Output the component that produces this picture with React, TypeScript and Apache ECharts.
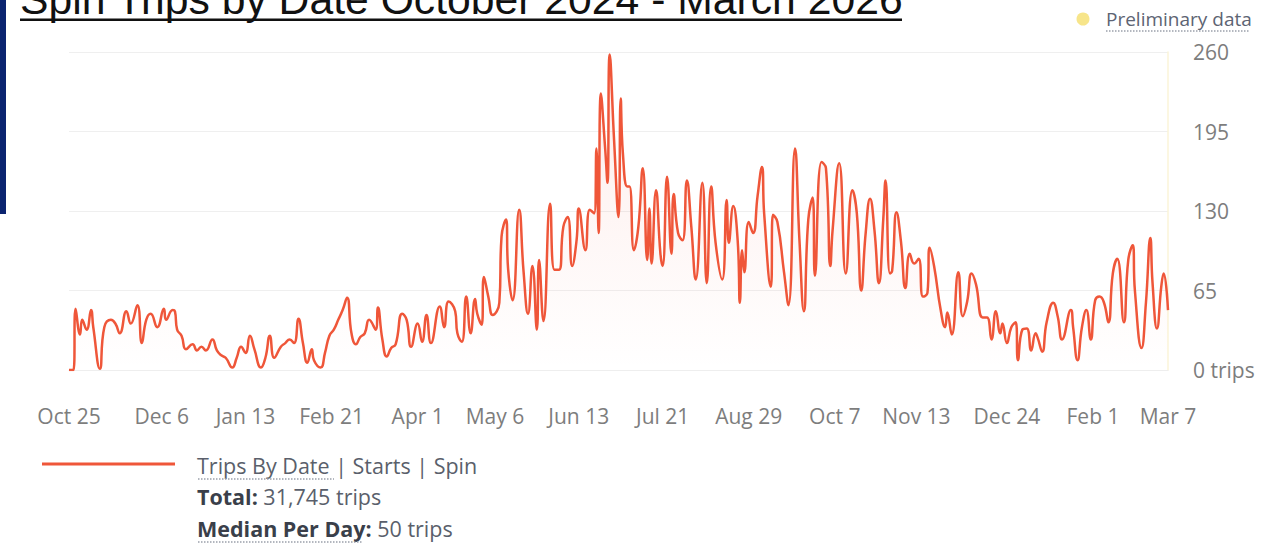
import React, { useEffect, useRef } from "react";
import * as echarts from "echarts";

// ---- data ----
const startDateUTC = Date.UTC(2024, 9, 25);
const dayCount = 499;
const tickDates = [
  "2024-10-25", "2024-12-06", "2025-01-13", "2025-02-21", "2025-04-01", "2025-05-06", "2025-06-13",
  "2025-07-21", "2025-08-29", "2025-10-07", "2025-11-13", "2025-12-24", "2026-02-01", "2026-03-07",
];
const yTicks = [0, 65, 130, 195, 260];
const sampleDays = [
  0, 2, 3, 5, 6, 8, 10, 11, 14, 16, 19, 21, 23, 26, 28, 31, 33, 35, 37, 40, 43, 44, 47, 48, 49, 51, 53, 56, 58, 60,
  62, 65, 67, 69, 71, 74, 76, 78, 80, 82, 84, 87, 89, 91, 93, 96, 98, 100, 102, 104, 106, 108, 110, 111, 114, 116, 118,
  120, 122, 124, 126, 128, 130, 132, 134, 136, 139, 140, 142, 144, 146, 148, 151, 153, 155, 158, 160, 162, 164, 168,
  170, 172, 175, 176, 178, 180, 182, 184, 185, 187, 188, 190, 192, 195, 196, 198, 199, 201, 204, 206, 208, 210, 212,
  213, 215, 218, 220, 222, 224, 226, 228, 230, 231, 234, 236, 238, 239, 240, 241, 243, 244, 245, 247, 249, 250, 251,
  253, 254, 256, 258, 260, 262, 263, 264, 266, 268, 269, 271, 273, 274, 276, 278, 280, 282, 284, 287, 289, 291, 293,
  296, 298, 299, 301, 303, 304, 305, 306, 308, 310, 312, 314, 315, 318, 319, 321, 324, 326, 329, 331, 333, 335, 337,
  338, 341, 343, 345, 346, 349, 352, 355, 357, 359, 361, 363, 365, 367, 369, 370, 372, 373, 375, 377, 379, 381, 383,
  385, 387, 389, 390, 392, 395, 397, 398, 400, 403, 405, 407, 409, 411, 414, 416, 418, 420, 422, 423, 425, 427, 429,
  430, 432, 434, 436, 438, 439, 441, 443, 446, 448, 450, 454, 455, 457, 459, 461, 463, 465, 467, 469, 471, 473, 475,
  478, 480, 482, 483, 486, 488, 490, 491, 493, 495, 496, 498,
];
const sampleTrips = [
  0, 0, 50, 29, 41, 33, 49, 35, 1, 35, 41, 38, 30, 48, 38, 53, 22, 41, 46, 35, 50, 41, 49, 48, 33, 28, 17, 21, 16, 19,
  16, 25, 16, 12, 10, 2, 10, 19, 14, 28, 17, 2, 10, 28, 10, 19, 22, 25, 22, 42, 22, 6, 17, 8, 2, 14, 28,
  33, 41, 49, 59, 30, 21, 27, 30, 41, 33, 51, 25, 11, 18, 21, 46, 41, 19, 38, 23, 45, 22, 52,
  35, 56, 48, 30, 23, 60, 30, 58, 46, 37, 76, 60, 45, 55, 109, 123, 82, 57, 131, 80, 46, 85, 33,
  90, 40, 136, 82, 82, 117, 125, 85, 106, 132, 98, 131, 128, 181, 112, 226, 180, 153, 258, 188, 125, 222, 177,
  150, 150, 98, 117, 165, 90, 132, 87, 147, 95, 85, 158, 95, 144, 112, 106, 155, 117, 74, 153, 71, 150, 104,
  74, 139, 104, 134, 106, 55, 98, 80, 121, 112, 142, 166, 128, 68, 127, 121, 80, 53, 181, 106, 48, 123, 141,
  77, 170, 165, 85, 114, 169, 79, 147, 128, 65, 112, 140, 114, 71, 124, 155, 79, 81, 129, 105, 67, 95, 87,
  91, 60, 63, 100, 85, 49, 35, 47, 29, 80, 44, 56, 79, 70, 43, 43, 25, 48, 30, 38, 22, 35, 39,
  8, 33, 34, 16, 30, 26, 15, 39, 55, 44, 25, 49, 35, 8, 35, 49, 25, 57, 60, 55, 39, 79, 91,
  39, 90, 102, 65, 18, 55, 108, 71, 34, 69, 79, 49,
];
const seriesName = "Trips By Date | Starts | Spin";
const totalTrips = "31,745";
const medianPerDay = 50;
const titleText = "Spin Trips by Date October 2024 - March 2026";
const prelimText = "Preliminary data";

const MONTHS = ["Jan", "Feb", "Mar", "Apr", "May", "Jun", "Jul", "Aug", "Sep", "Oct", "Nov", "Dec"];
function pad(n: number) {
  return n < 10 ? "0" + n : "" + n;
}
function buildCategories(): string[] {
  const out: string[] = [];
  for (let i = 0; i < dayCount; i++) {
    const d = new Date(startDateUTC + i * 86400000);
    out.push(d.getUTCFullYear() + "-" + pad(d.getUTCMonth() + 1) + "-" + pad(d.getUTCDate()));
  }
  return out;
}
function fmtDate(iso: string) {
  const [, m, d] = iso.split("-");
  return MONTHS[parseInt(m, 10) - 1] + " " + parseInt(d, 10);
}

const FONT = "'Open Sans', 'Noto Sans', sans-serif";
const LINE_COLOR = "#ef5639";
const TXT = "#5a5f6b";
const BOLD_TXT = "#3a3f4a";
const LEG_FS = 21.5;
const AXIS_FS = 21;

export default function App() {
  const ref = useRef<HTMLDivElement>(null);
  useEffect(() => {
    if (!ref.current) return;
    const chart = echarts.init(ref.current, undefined, { renderer: "svg" });
    const categories = buildCategories();
    const data = sampleDays.map((d, i) => [d, sampleTrips[i]]);
    const boldRich = {
      b: { fontWeight: "bold", fontSize: LEG_FS, fontFamily: FONT, fill: BOLD_TXT },
      r: { fontWeight: "normal", fontSize: LEG_FS, fontFamily: FONT, fill: TXT },
    };
    chart.setOption({
      animation: false,
      backgroundColor: "#ffffff",
      grid: { left: 69, right: 115, top: 52, bottom: 174, containLabel: false },
      xAxis: {
        type: "category",
        boundaryGap: false,
        data: categories,
        offset: 22,
        axisLine: { show: true, lineStyle: { color: "#eeeeee", width: 1 } },
        axisTick: { show: false },
        splitLine: { show: false },
        axisLabel: {
          interval: (_idx: number, value: string) => tickDates.indexOf(value) >= 0,
          formatter: (value: string) => fmtDate(value),
          color: "#7d7d7d",
          fontFamily: FONT,
          fontSize: AXIS_FS,
          margin: 13,
        },
      },
      yAxis: {
        type: "value",
        position: "right",
        min: yTicks[0],
        max: yTicks[yTicks.length - 1],
        interval: 65,
        axisLine: { show: true, lineStyle: { color: "#fbf4d8", width: 1.5 } },
        axisTick: { show: false },
        splitLine: { show: true, lineStyle: { color: "#efefef", width: 1 } },
        axisLabel: {
          margin: 25,
          color: "#7d7d7d",
          fontFamily: FONT,
          fontSize: AXIS_FS,
          formatter: (v: number) => (v === 0 ? "0 trips" : String(v)),
        },
      },
      series: [
        {
          type: "line",
          name: seriesName,
          data,
          smooth: 0.5,
          showSymbol: false,
          lineStyle: { color: LINE_COLOR, width: 2.5 },
          itemStyle: { color: LINE_COLOR },
          areaStyle: {
            color: new echarts.graphic.LinearGradient(0, 0, 0, 1, [
              { offset: 0, color: "rgba(240,90,70,0.16)" },
              { offset: 1, color: "rgba(240,90,70,0)" },
            ]),
          },
        },
      ],
      graphic: [
        { type: "rect", left: 0, top: 0, shape: { width: 6, height: 214 }, style: { fill: "#0b2470" } },
        {
          type: "text",
          x: 20,
          y: -1,
          style: {
            text: titleText,
            font: "42.7px 'Liberation Sans', Arial, sans-serif",
            fill: "#111111",
            verticalAlign: "middle",
          },
        },
        { type: "rect", shape: { x: 20, y: 18.5, width: 882, height: 2.5 }, style: { fill: "#111111" } },
        { type: "circle", shape: { cx: 1083, cy: 19, r: 6.5 }, style: { fill: "#f7e58a" } },
        {
          type: "text",
          x: 1106,
          y: 19,
          style: { text: prelimText, fontSize: 19, fontFamily: FONT, fill: "#5d6473", verticalAlign: "middle" },
        },
        {
          type: "line",
          shape: { x1: 1106, y1: 31, x2: 1250, y2: 31 },
          style: { stroke: "#9aa0ab", lineWidth: 1.5, lineDash: [1.5, 1.5] },
        },
        {
          type: "line",
          shape: { x1: 42, y1: 464, x2: 175, y2: 464 },
          style: { stroke: LINE_COLOR, lineWidth: 3 },
        },
        {
          type: "text",
          x: 197,
          y: 465,
          style: { text: seriesName, fontSize: LEG_FS, fontFamily: FONT, fill: TXT, verticalAlign: "middle" },
        },
        {
          type: "line",
          shape: { x1: 198, y1: 479, x2: 334, y2: 479 },
          style: { stroke: "#9aa0ab", lineWidth: 1.5, lineDash: [1.5, 1.5] },
        },
        {
          type: "text",
          x: 197,
          y: 496,
          style: {
            text: "{b|Total:}{r| " + totalTrips + " trips}",
            fontSize: LEG_FS,
            fontFamily: FONT,
            fill: TXT,
            verticalAlign: "middle",
            rich: boldRich,
          },
        },
        {
          type: "text",
          x: 197,
          y: 528,
          style: {
            text: "{b|Median Per Day:}{r| " + medianPerDay + " trips}",
            fontSize: LEG_FS,
            fontFamily: FONT,
            fill: TXT,
            verticalAlign: "middle",
            rich: boldRich,
          },
        },
        {
          type: "line",
          shape: { x1: 198, y1: 542, x2: 362, y2: 542 },
          style: { stroke: "#9aa0ab", lineWidth: 1.5, lineDash: [1.5, 1.5] },
        },
      ],
    });
    return () => chart.dispose();
  }, []);
  return <div ref={ref} style={{ position: "absolute", left: 0, top: 0, width: 1283, height: 544 }} />;
}
